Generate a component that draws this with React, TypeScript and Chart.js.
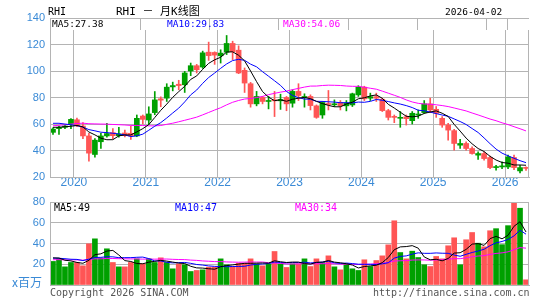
import React, { useEffect, useRef } from 'react';
import { Chart, registerables } from 'chart.js';
Chart.register(...registerables);

// Monthly candles, 2019-09 .. 2026-04
const startYear = 2019;
const startMonth = 9;
const opens = [53.7, 56.5, 57.5, 60, 63.2, 58.5, 51, 37, 46.6, 51, 53.5, 51.2, 53.2, 53, 51, 66, 63, 68.6, 79, 79.5, 88, 90, 89.6, 100, 104, 103, 114.2, 114, 111.5, 114.2, 120.8, 115.7, 100.5, 90.4, 75.2, 80, 77, 78.2, 77.5, 80, 75.7, 84.6, 80, 80.8, 73.7, 66.8, 75.2, 74.5, 76.2, 73.7, 74.4, 82, 87.8, 79.5, 80.6, 78.7, 70.1, 65.5, 64.3, 65.4, 62.5, 66.8, 68.6, 75.2, 71.1, 64.3, 59.2, 55, 44, 45.3, 41.5, 36.5, 37.7, 34.7, 27.1, 27.6, 27.6, 34.7, 24.6, 27.1];
const highs = [57.2, 58.5, 59, 64, 64.5, 61, 53, 49, 53, 60.5, 56.5, 57.5, 55.5, 58.5, 66.8, 66.8, 73, 84.5, 80.5, 90.4, 91.6, 93, 99.7, 106, 105, 115, 121.8, 114.5, 116, 126.8, 122.5, 119, 102.3, 91.4, 84.6, 80.8, 80.8, 84.6, 82.5, 80.8, 85.8, 90.4, 82.8, 82, 74.4, 77, 85.3, 78.2, 77.7, 77.7, 83.3, 88.9, 88.5, 83.3, 83.3, 79.5, 71.1, 66.8, 69.4, 66.8, 69.4, 70.6, 77.7, 79.5, 73.2, 65.6, 60.5, 56, 48.4, 46.6, 42.8, 39, 39, 35.7, 28.9, 31.4, 36.5, 36.5, 28.9, 27.6];
const lows = [52.2, 52.2, 56.5, 56.5, 58, 49, 32, 35, 41.5, 50, 49, 50, 50.3, 48.4, 50.4, 60, 59.7, 67, 73, 77, 85, 85.8, 83.8, 96.5, 98.5, 102, 108, 105, 106, 112.4, 108.6, 98, 83.8, 72.7, 73.7, 75.2, 71.4, 65.6, 71, 70, 72.7, 77.7, 72.7, 70.6, 64.3, 64.3, 70.6, 73.2, 70.6, 69.9, 73.2, 80.8, 77.7, 77.7, 77, 69.4, 63, 61, 57.5, 59.2, 60, 64.3, 68.1, 68.6, 65, 57.5, 47.8, 40.3, 41.5, 40.3, 37.2, 33.2, 32.7, 26.3, 25.1, 26.3, 26.3, 25.5, 23, 25];
const closes = [56.2, 57.5, 58.5, 63.5, 58.7, 51, 38, 47.8, 51, 52.8, 51.2, 52.5, 51.2, 51, 64.3, 63.5, 67.6, 78.2, 78, 87.8, 89, 89, 98.5, 104, 101, 113.7, 111.6, 112, 113.5, 120.8, 114.5, 98.5, 90.9, 75.2, 80.8, 77, 77.5, 77.5, 78.5, 75.2, 84.6, 81.5, 80.5, 73.9, 65, 76.2, 74.7, 75.2, 73.7, 75.7, 82.8, 87.8, 79, 80.6, 79.5, 70.1, 65, 65, 65, 64, 68.1, 67.5, 75.2, 70.6, 68.1, 59.2, 55.4, 45.3, 45.3, 41.5, 37.7, 37.7, 33.9, 27.1, 27.6, 28.4, 35.2, 27.1, 27.1, 26.5];
// volume, millions of shares
const volumes = [22.7, 25.2, 17.5, 21.7, 21.7, 18.5, 39.7, 44.5, 25.9, 34.9, 21.7, 17.5, 17.5, 21.7, 25.2, 20.4, 25.2, 21.7, 26.2, 21.7, 15.6, 20.4, 19.5, 13, 14, 14.6, 17.2, 17.2, 25.2, 19.5, 17.8, 21, 21, 25.2, 20.4, 18.5, 20.4, 32.3, 20.4, 16.9, 20.4, 20.4, 25.2, 17.8, 25.2, 21.7, 28.1, 17.5, 14.6, 20.4, 15.6, 14, 24.3, 17.8, 23.6, 28.1, 38.7, 61.9, 31.3, 25.2, 32.6, 26.5, 19.5, 17.8, 27.5, 25.2, 37.8, 45.5, 19.5, 43.6, 50.6, 40.3, 36.8, 52.3, 54.3, 38.9, 57.2, 80.4, 74, 5];
// history before the visible window (only used for the moving averages)
const priorCloses = [47, 48.8, 46, 47.5, 48.2, 45, 43.5, 50.3, 51.8, 54.3, 55.5, 58, 57.8, 57.9, 60.8, 64.6, 65, 75.5, 78, 70.4, 60.7, 63.5, 57.2, 64.4, 69, 65.2, 62, 56.9, 57, 61.5, 55.8];
const priorVolumes = [22, 25, 20, 23, 26, 21, 24, 27, 22, 25, 23, 20, 26, 24, 28, 22, 25, 23, 21, 24, 26, 22, 27, 23, 30, 26, 28, 25, 29];

const RED = '#ff5555';
const GREEN = '#00a000';
const BLUE_TXT = '#3a8ad6';
const GRID = '#b4b4b4';

const N = closes.length;
const isUp = closes.map((c, i) => c >= opens[i]);
const candleColors = isUp.map((u) => (u ? GREEN : RED));
const monthOf = (i: number) => ((startMonth - 1 + i) % 12) + 1;
const yearOf = (i: number) => startYear + Math.floor((startMonth - 1 + i) / 12);
const yearTicks = Array.from({ length: N }, (_, i) => i).filter((i) => monthOf(i) === 1);

function movingAvg(arr: number[], prior: number[], n: number) {
  const all = [...prior, ...arr];
  return arr.map((_, i) => {
    const end = prior.length + i;
    let s = 0;
    let c = 0;
    for (let k = end - n + 1; k <= end; k++) {
      if (k >= 0) { s += all[k]; c++; }
    }
    return s / c;
  });
}

const borderPlugin = {
  id: 'frame',
  afterDraw(chart: any) {
    const { ctx, chartArea: a } = chart;
    ctx.save();
    ctx.strokeStyle = GRID;
    ctx.lineWidth = 1;
    ctx.strokeRect(Math.round(a.left) + 0.5, Math.round(a.top) + 0.5, Math.round(a.right - a.left) - 1, Math.round(a.bottom - a.top));
    ctx.restore();
  },
};

const lineDs = (vals: number[], color: string) => ({
  type: 'line' as const,
  data: vals.map((v, i) => ({ x: i + 0.5, y: v })),
  borderColor: color,
  borderWidth: 1,
  pointRadius: 0,
  tension: 0,
  order: 0,
});

export default function App() {
  const mainRef = useRef<HTMLCanvasElement>(null);
  const volRef = useRef<HTMLCanvasElement>(null);

  useEffect(() => {
    const ma5 = movingAvg(closes, priorCloses, 5);
    const ma10 = movingAvg(closes, priorCloses, 10);
    const ma30 = movingAvg(closes, priorCloses, 30);
    const vma5 = movingAvg(volumes, priorVolumes, 5);
    const vma10 = movingAvg(volumes, priorVolumes, 10);
    const vma30 = movingAvg(volumes, priorVolumes, 30);

    const xScale = (showLabels: boolean, height: number) => ({
      type: 'linear' as const,
      min: 0,
      max: N,
      offset: false,
      afterBuildTicks: (axis: any) => {
        axis.ticks = yearTicks.map((v) => ({ value: v }));
      },
      afterFit: (s: any) => { s.height = height; },
      ticks: {
        display: showLabels,
        autoSkip: false,
        maxRotation: 0,
        padding: -2,
        color: BLUE_TXT,
        font: { family: 'Liberation Sans, Arial, sans-serif', size: 12 },
        callback: (v: any) => String(yearOf(Number(v))),
      },
      grid: { display: showLabels, color: GRID, drawTicks: false, offset: false },
      border: { display: true, color: GRID },
    });

    const main = new Chart(mainRef.current!, {
      type: 'bar',
      data: {
        datasets: [
          lineDs(ma5, '#000000'),
          lineDs(ma10, '#0000ff'),
          lineDs(ma30, '#ff00ff'),
          {
            type: 'bar',
            data: closes.map((c, i) => ({ x: i + 0.5, y: [Math.min(opens[i], c), Math.max(opens[i], c)] })),
            backgroundColor: candleColors,
            barThickness: 5,
            minBarLength: 1,
            grouped: false,
            order: 1,
          } as any,
          {
            type: 'bar',
            data: highs.map((h, i) => ({ x: i + 0.5, y: [lows[i], h] })),
            backgroundColor: candleColors,
            barThickness: 1,
            grouped: false,
            order: 2,
          } as any,
        ],
      },
      options: {
        animation: false,
        responsive: false,
        maintainAspectRatio: false,
        events: [],
        layout: { padding: { left: 0, right: 16, top: 18, bottom: 0 } },
        plugins: { legend: { display: false }, tooltip: { enabled: false } },
        scales: {
          x: xScale(true, 13),
          y: {
            min: 20,
            max: 140,
            afterFit: (s: any) => { s.width = 50; },
            ticks: {
              stepSize: 20,
              padding: 5,
              color: BLUE_TXT,
              font: { family: 'Liberation Sans, Arial, sans-serif', size: 11 },
            },
            grid: { color: GRID, drawTicks: false },
            border: { display: true, color: GRID },
          },
        },
      },
      plugins: [borderPlugin],
    });

    const vol = new Chart(volRef.current!, {
      type: 'bar',
      data: {
        datasets: [
          lineDs(vma5, '#000000'),
          lineDs(vma10, '#0000ff'),
          lineDs(vma30, '#ff00ff'),
          {
            type: 'bar',
            data: volumes.map((v, i) => ({ x: i + 0.5, y: v })),
            backgroundColor: candleColors,
            barThickness: 5,
            grouped: false,
            order: 1,
          } as any,
        ],
      },
      options: {
        animation: false,
        responsive: false,
        maintainAspectRatio: false,
        events: [],
        layout: { padding: { left: 0, right: 16, top: 12, bottom: 15 } },
        plugins: { legend: { display: false }, tooltip: { enabled: false } },
        scales: {
          x: xScale(false, 0),
          y: {
            min: 0,
            max: 80,
            afterFit: (s: any) => { s.width = 50; },
            ticks: {
              stepSize: 20,
              padding: 5,
              color: BLUE_TXT,
              font: { family: 'Liberation Sans, Arial, sans-serif', size: 11 },
              callback: (v: any) => (Number(v) === 0 ? '' : String(v)),
            },
            grid: { color: GRID, drawTicks: false },
            border: { display: true, color: GRID },
          },
        },
      },
      plugins: [borderPlugin],
    });

    return () => {
      main.destroy();
      vol.destroy();
    };
  }, []);

  const mono = '"DejaVu Sans Mono", "Liberation Mono", monospace';
  const txt = (left: number, top: number, size: number, color: string, s: string, extra: any = {}) => (
    <div style={{ position: 'absolute', left, top, fontSize: size, lineHeight: `${size}px`, color, fontFamily: mono, whiteSpace: 'pre', ...extra }}>{s}</div>
  );
  const seps = [140, 209, 278, 348, 417, 486, 507];

  return (
    <div style={{ position: 'fixed', left: 0, top: 0, width: 545, height: 300, background: '#fff', overflow: 'hidden' }}>
      <canvas ref={mainRef} width={545} height={190} style={{ position: 'absolute', left: 0, top: 0, width: 545, height: 190 }} />
      <canvas ref={volRef} width={545} height={110} style={{ position: 'absolute', left: 0, top: 190, width: 545, height: 110 }} />
      {/* header */}
      {txt(48, 7, 10, '#000', 'RHI')}
      {txt(116, 6, 10, '#000', 'RHI － 月K线图', { fontFamily: '"DejaVu Sans Mono", "Noto Sans CJK SC", monospace', fontSize: 11, lineHeight: '11px' })}
      {txt(445, 7, 9.5, '#000', '2026-04-02')}
      {/* main legend row */}
      <div style={{ position: 'absolute', left: 51, top: 19, width: 478, height: 11, background: '#fff' }} />
      {seps.map((x) => (
        <div key={x} style={{ position: 'absolute', left: x, top: 18, width: 1, height: 12, background: GRID }} />
      ))}
      {txt(52, 19, 9.5, '#000', 'MA5:27.38')}
      {txt(167, 19, 9.5, '#0000ff', 'MA10:29.83')}
      {txt(283, 19, 9.5, '#ff00ff', 'MA30:54.06')}
      {/* volume legend */}
      {txt(54, 203, 10, '#000', 'MA5:49')}
      {txt(175, 203, 10, '#0000ff', 'MA10:47')}
      {txt(295, 203, 10, '#ff00ff', 'MA30:34')}
      <div style={{ position: 'absolute', left: 12, top: 276, fontSize: 12, lineHeight: '12px', color: BLUE_TXT, fontFamily: '"Noto Sans CJK SC", sans-serif' }}>x百万</div>
      {/* footer */}
      {txt(50, 288, 10, '#555', 'Copyright 2026 SINA.COM')}
      {txt(373, 288, 10, '#555', 'http://finance.sina.com.cn')}
    </div>
  );
}
